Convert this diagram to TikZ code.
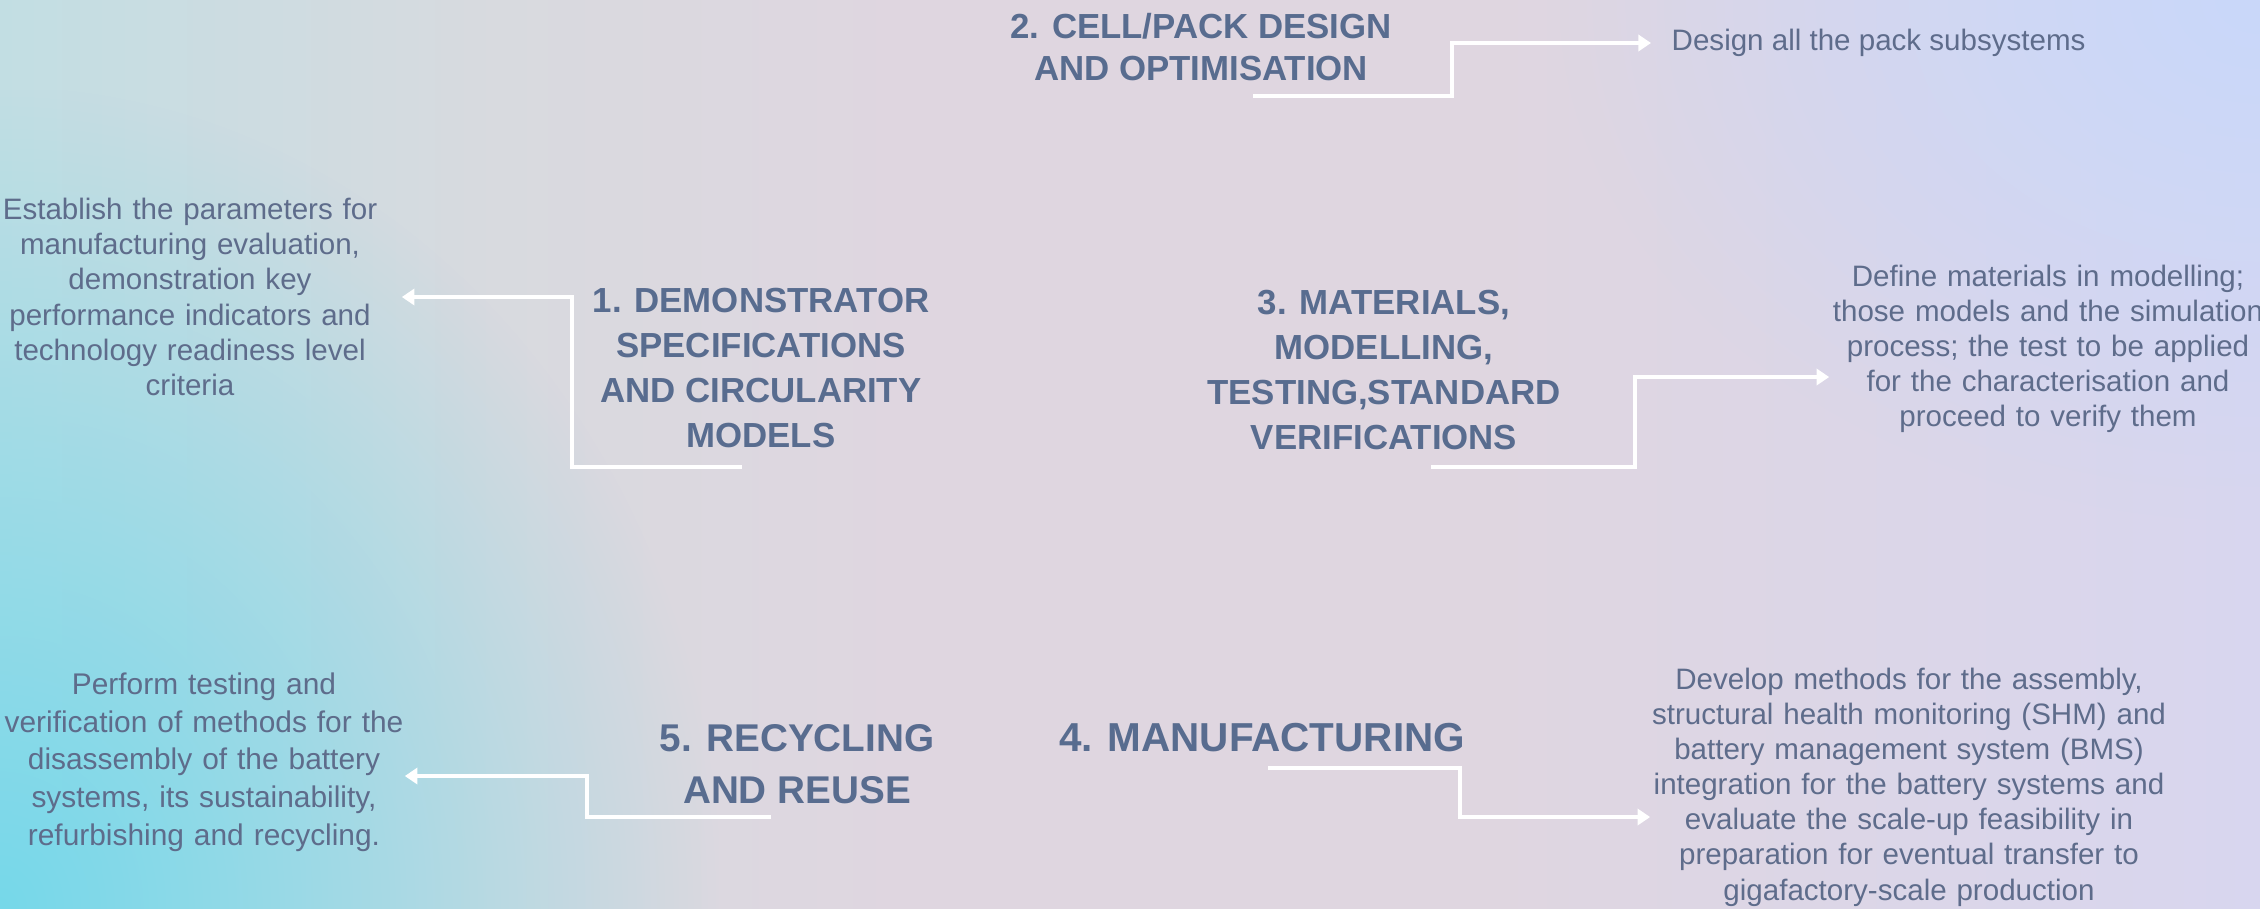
\documentclass[tikz,border=0pt]{standalone}
\usepackage{fontspec}
\setmainfont{Liberation Sans}
\usetikzlibrary{arrows.meta,fadings}

\definecolor{titel}{HTML}{586C8F}
\definecolor{schrift}{HTML}{5E6C8B}
\definecolor{hgLinks}{HTML}{C2DEE3}
\definecolor{hgGrau}{HTML}{D8DADF}
\definecolor{hgMitte}{HTML}{DFD6E0}
\definecolor{hgRechts}{HTML}{D8D6EF}
\definecolor{hgCyan}{HTML}{76D8EA}
\definecolor{hgBlau}{HTML}{C9D8FA}

% Verlauf von links nach rechts (Bereich 25bp bis 75bp)
\pgfdeclarehorizontalshading{hintergrund}{100bp}{color(0bp)=(hgLinks); color(25bp)=(hgLinks); color(36bp)=(hgGrau); color(45bp)=(hgMitte); color(58bp)=(hgMitte); color(75bp)=(hgRechts); color(100bp)=(hgRechts)}
\tikzfading[name=glow, inner color=transparent!0, outer color=transparent!100]

\tikzset{
	titel/.style={font=\bfseries\fontsize{9.9}{12.8}\selectfont, text=titel, align=center, inner sep=0pt},
	beschr/.style={font=\fontsize{8.4}{10}\selectfont, text=schrift, align=center, inner sep=0pt},
	pfeil/.style={draw=white, line width=1pt, -{Triangle[length=3.6pt,width=4.6pt]}},
}

\begin{document}
\begin{tikzpicture}[x=0.01cm, y=-0.01cm]
	\useasboundingbox (0,0) rectangle (2260,908);
	
	% Hintergrund mit Farbverlauf
	\begin{scope}
		\clip (0,0) rectangle (2260,908);
		\shade[shading=hintergrund] (0,0) rectangle (2260,908);
		\fill[hgCyan, path fading=glow] (-720,88) rectangle (720,1728);
		\fill[hgBlau, path fading=glow] (1560,-520) rectangle (2960,520);
	\end{scope}
	
	% Arbeitspakete
	\node[titel] (t1) at (761,368) {1. DEMONSTRATOR\\SPECIFICATIONS\\AND CIRCULARITY\\MODELS};
	\node[titel, font=\bfseries\fontsize{9.9}{12.2}\selectfont] (t2) at (1201,47) {2. CELL/PACK DESIGN\\AND OPTIMISATION};
	\node[titel] (t3) at (1384,370) {3. MATERIALS,\\MODELLING,\\TESTING,STANDARD\\VERIFICATIONS};
	\node[titel, font=\bfseries\fontsize{11.5}{14.8}\selectfont] (t4) at (1262,738) {4. MANUFACTURING};
	\node[titel, font=\bfseries\fontsize{11}{14.8}\selectfont] (t5) at (797,764) {5. RECYCLING\\AND REUSE};
	
	% Beschreibungen
	\node[beschr, text width=4.22cm] (d1) at (190,297) {Establish the parameters for\\manufacturing evaluation,\\demonstration key\\performance indicators and\\technology readiness level\\criteria};
	\node[beschr, anchor=west, inner xsep=0.2cm] (d2) at (1651,43) {Design all the pack subsystems};
	\node[beschr, text width=4.36cm] (d3) at (2048,349) {Define materials in modelling;\\those models and the simulation\\process; the test to be applied\\for the characterisation and\\proceed to verify them};
	\node[beschr, text width=5.16cm] (d4) at (1909,787) {Develop methods for the assembly,\\structural health monitoring (SHM) and\\battery management system (BMS)\\integration for the battery systems and\\evaluate the scale-up feasibility in\\preparation for eventual transfer to\\gigafactory-scale production};
	\node[beschr, text width=4.0cm, font=\fontsize{8.5}{10.7}\selectfont] (d5) at (204,762) {Perform testing and\\verification of methods for the\\disassembly of the battery\\systems, its sustainability,\\refurbishing and recycling.};
	
	% Anfangspunkte unter den Titeln
	\coordinate (s1) at (742,467);
	\coordinate (s2) at (1253,96);
	\coordinate (s3) at (1431,467);
	\coordinate (s4) at (1268,768);
	\coordinate (s5) at (771,817);
	
	\draw[pfeil] (s1) -- ++(-170,0) |- (d1.east);
	\draw[pfeil] (s2) -- ++(199,0) |- (d2.west);
	\draw[pfeil] (s3) -- ++(204,0) |- ([yshift=-0.28cm]d3.west);
	\draw[pfeil] (s4) -- ++(192,0) |- ([yshift=-0.30cm]d4.west);
	\draw[pfeil] (s5) -- ++(-184,0) |- ([yshift=-0.14cm]d5.east);
\end{tikzpicture}
\end{document}
